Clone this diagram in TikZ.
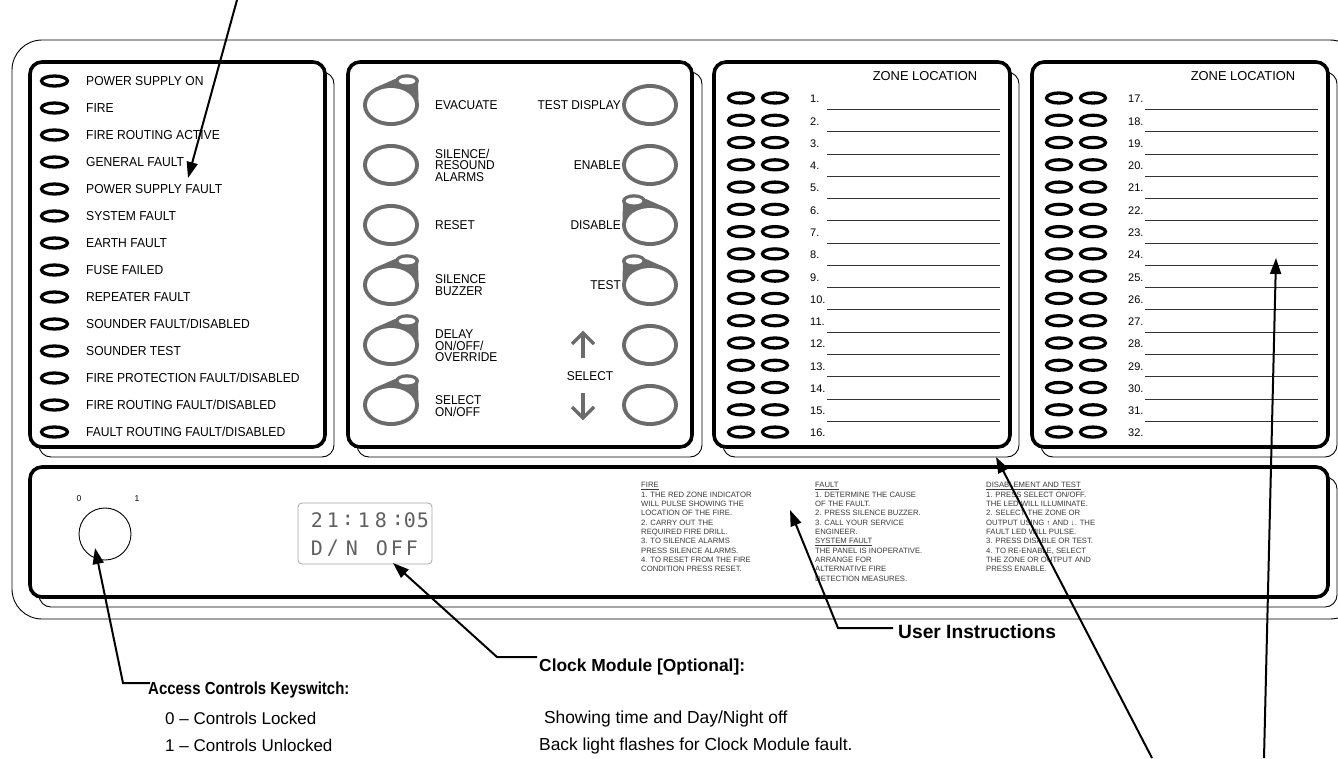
\documentclass[tikz,border=0pt]{standalone}
\usepackage{fontspec}
\setmainfont{Liberation Sans}
\newfontfamily\lcdfont{DejaVu Sans Mono}
\newfontfamily\pfont{Liberation Sans}[FakeStretch=0.93]
\newfontfamily\afont{Liberation Sans}[FakeStretch=0.86]
\usetikzlibrary{arrows.meta}
\definecolor{btngray}{HTML}{6B6B6B}
\definecolor{txtgray}{HTML}{3A3A3A}
\definecolor{lcdgray}{HTML}{606060}
\tikzset{
  panel/.style={draw, line width=3.6pt, rounded corners=12pt, fill=white},
  shadowp/.style={draw, line width=0.9pt, rounded corners=12pt, fill=white},
  led/.style={draw, line width=3.3pt},
  lbl/.style={inner sep=0pt, font=\pfont\fontsize{13}{11.5}\selectfont},
  btnlbl/.style={inner sep=0pt, align=left, font=\pfont\fontsize{12.8}{11.5}\selectfont},
  btnlblr/.style={inner sep=0pt, align=right, font=\pfont\fontsize{12.8}{11.5}\selectfont},
  zonehead/.style={inner sep=0pt, font=\fontsize{12.9}{14}\selectfont},
  znum/.style={inner sep=0pt, font=\fontsize{11}{12}\selectfont},
  zline/.style={draw, line width=1pt, black!80},
  instr/.style={inner sep=0pt, align=left, text=txtgray, font=\fontsize{7.7}{9.33}\selectfont},
  lcd/.style={inner sep=0pt, text=lcdgray, font=\lcdfont\fontsize{20}{22}\selectfont},
  anno/.style={inner sep=0pt, font=\fontsize{17.4}{19}\selectfont},
  annob/.style={inner sep=0pt, font=\bfseries\fontsize{17.4}{19}\selectfont},
  leader/.style={draw, line width=2pt, -{Triangle[length=16pt,width=11pt]}},
  selarrow/.style={draw=btngray, line width=3.5pt},
  btn/.pic={
    \fill[btngray] (0,0) ellipse [x radius=28, y radius=21];
    \fill[white] (0,0) ellipse [x radius=24, y radius=17];
  },
  btnind/.pic={
    \fill[btngray] (0,0) ellipse [x radius=28, y radius=21];
    \fill[btngray] (16,-24) ellipse [x radius=12, y radius=6.8];
    \fill[btngray] (-13,-18.5) -- (4,-26) -- (27,-24) -- (27.5,-4) -- cycle;
    \fill[white] (0,0) ellipse [x radius=24, y radius=17];
    \fill[white] (16,-24) ellipse [x radius=8.3, y radius=3.4];
  }
}
\begin{document}
\begin{tikzpicture}[x=1pt,y=-1pt]
\useasboundingbox (0,0) rectangle (1338,758);
\begin{scope}
\clip (0,0) rectangle (1338,758);
% outer frame
\draw[line width=0.9pt, rounded corners=30pt] (12,40) rectangle (1360,619);

% ---------- panel 1 : indicators ----------
\draw[shadowp] (39,72) rectangle (334,457);
\draw[panel] (30,62) rectangle (325,447);
\foreach \t [count=\i from 0] in {POWER SUPPLY ON, FIRE, FIRE ROUTING ACTIVE, GENERAL FAULT, POWER SUPPLY FAULT, SYSTEM FAULT, EARTH FAULT, FUSE FAILED, REPEATER FAULT, SOUNDER FAULT/DISABLED, SOUNDER TEST, FIRE PROTECTION FAULT/DISABLED, FIRE ROUTING FAULT/DISABLED, FAULT ROUTING FAULT/DISABLED} {
  \draw[led] (54.5,81+27*\i) ellipse [x radius=13, y radius=5];
  \node[lbl, anchor=base west] (ind\i) at (86,85.6+27*\i) {\t};
}

% ---------- panel 2 : buttons ----------
\draw[shadowp] (357,72) rectangle (702,457);
\draw[panel] (348,62) rectangle (692,447);
\pic at (391,105) {btnind};
\pic at (391,165) {btn};
\pic at (391,225) {btn};
\pic at (391,285) {btnind};
\pic at (391,345) {btnind};
\pic at (391,405) {btnind};
\pic at (650,105) {btn};
\pic at (650,165) {btn};
\pic[xscale=-1] at (650,225) {btnind};
\pic[xscale=-1] at (650,285) {btnind};
\pic at (650,345) {btn};
\pic at (650,405) {btn};
\node[btnlbl, anchor=west] (bEvac) at (435,105) {EVACUATE};
\node[btnlbl, anchor=west] (bSil) at (435,165) {SILENCE/\\RESOUND\\ALARMS};
\node[btnlbl, anchor=west] (bReset) at (435,225) {RESET};
\node[btnlbl, anchor=west] (bBuz) at (435,285) {SILENCE\\BUZZER};
\node[btnlbl, anchor=west] (bDelay) at (435,346) {DELAY\\ON/OFF/\\OVERRIDE};
\node[btnlbl, anchor=west] (bSel) at (435,406) {SELECT\\ON/OFF};
\node[btnlblr, anchor=east] (bTD) at (621,105) {TEST DISPLAY};
\node[btnlblr, anchor=east] (bEn) at (621,165) {ENABLE};
\node[btnlblr, anchor=east] (bDis) at (621,225) {DISABLE};
\node[btnlblr, anchor=east] (bTest) at (621,285) {TEST};
\node[btnlbl] (bSelect) at (590,376) {SELECT};
\draw[selarrow] (583,358) -- (583,334);
\draw[selarrow, line join=miter] (572,344) -- (583,333) -- (594,344);
\draw[selarrow] (583,393) -- (583,417);
\draw[selarrow, line join=miter] (572,407) -- (583,418) -- (594,407);

% ---------- panels 3 and 4 : zones ----------
\foreach \off/\base/\nm in {0/0/A, 318/16/B} {
  \draw[shadowp] (723+\off,72) rectangle (1019+\off,457);
  \draw[panel] (714+\off,62) rectangle (1010+\off,447);
  \node[zonehead] (zh\nm) at (925+\off,76) {ZONE LOCATION};
  \foreach \i in {1,...,16} {
    \pgfmathsetmacro\yy{98+22.27*(\i-1)}
    \pgfmathtruncatemacro\num{\i+\base}
    \draw[led] (741+\off,\yy) ellipse [x radius=12.5, y radius=5];
    \draw[led] (775+\off,\yy) ellipse [x radius=12.5, y radius=5];
    \node[znum, anchor=base west] (z\num) at (810+\off,\yy+4.9) {\num.};
    \ifnum\i<16
      \draw[zline] (827+\off,\yy+11.5) -- (1000+\off,\yy+11.5);
    \fi
  }
}

% ---------- lower panel ----------
\draw[shadowp] (39,477) rectangle (1337,607);
\draw[panel] (30,467) rectangle (1328,597);
\node[circle, draw, line width=0.9pt, minimum size=52pt, inner sep=0pt] (key) at (105,534) {};
\node[inner sep=0pt, font=\fontsize{8.5}{9}\selectfont] (k0) at (79,499) {0};
\node[inner sep=0pt, font=\fontsize{8.5}{9}\selectfont] (k1) at (137,499) {1};
\node[draw=black!35, line width=0.8pt, rounded corners=4pt, minimum width=134pt, minimum height=61pt, inner sep=0pt] (clock) at (365,533.5) {};
\foreach \c/\x in {2/317, 1/333, :/348, 1/364, 8/381, :/398, 0/410, 5/423}
  \node[lcd] (lcdA\x) at (\x,520) {\c};
\foreach \c/\x in {D/317, \slash/333, N/352, O/382, F/397, F/412}
  \node[lcd] (lcdB\x) at (\x,548) {\c};

\node[instr, anchor=north west] (insFire) at (641,482.2) {\underline{FIRE}\\
1. THE RED ZONE INDICATOR\\
WILL PULSE SHOWING THE\\
LOCATION OF THE FIRE.\\
2. CARRY OUT THE\\
REQUIRED FIRE DRILL.\\
3. TO SILENCE ALARMS\\
PRESS SILENCE ALARMS.\\
4. TO RESET FROM THE FIRE\\
CONDITION PRESS RESET.};
\node[instr, anchor=north west] (insFault) at (815,482.2) {\underline{FAULT}\\
1. DETERMINE THE CAUSE\\
OF THE FAULT.\\
2. PRESS SILENCE BUZZER.\\
3. CALL YOUR SERVICE\\
ENGINEER.\\
\underline{SYSTEM FAULT}\\
THE PANEL IS INOPERATIVE.\\
ARRANGE FOR\\
ALTERNATIVE FIRE\\
DETECTION MEASURES.};
\node[instr, anchor=north west] (insDis) at (986,482.2) {\underline{DISABLEMENT AND TEST}\\
1. PRESS SELECT ON/OFF.\\
THE LED WILL ILLUMINATE.\\
2. SELECT THE ZONE OR\\
OUTPUT USING ↑ AND ↓. THE\\
FAULT LED WILL PULSE.\\
3. PRESS DISABLE OR TEST.\\
4. TO RE-ENABLE, SELECT\\
THE ZONE OR OUTPUT AND\\
PRESS ENABLE.};

% ---------- annotations ----------
\node[annob, anchor=base west, font=\afont\bfseries\fontsize{17.4}{19}\selectfont] (keyT) at (148,694.5) {Access Controls Keyswitch:};
\node[anno, anchor=base west, font=\fontsize{17}{19}\selectfont] (keyL0) at (165,724.5) {0 – Controls Locked};
\node[anno, anchor=base west, font=\fontsize{17}{19}\selectfont] (keyL1) at (165,751.5) {1 – Controls Unlocked};
\node[annob, anchor=base west] (clkT) at (539,671.5) {Clock Module [Optional]:};
\node[anno, anchor=base west] (clkL1) at (539,723.5) {\ Showing time and Day/Night off};
\node[anno, anchor=base west] (clkL2) at (539,750.5) {Back light flashes for Clock Module fault.};
\node[annob, anchor=base west, font=\bfseries\fontsize{19.2}{21}\selectfont] (usrT) at (898,638) {User Instructions};

% ---------- leaders ----------
\coordinate (topS) at (237,0);
\coordinate (topT) at (188,178);
\draw[leader] (topS) -- (topT);
\coordinate (keyC) at (150,683);
\coordinate (keyK) at (123,683);
\coordinate (keyTip) at (95,548);
\draw[leader] (keyC) -- (keyK) -- (keyTip);
\coordinate (clkC) at (537,657);
\coordinate (clkK) at (497,657);
\coordinate (clkTip) at (393,563);
\draw[leader] (clkC) -- (clkK) -- (clkTip);
\coordinate (usrC) at (893,628);
\coordinate (usrK) at (838,628);
\coordinate (usrTip) at (790,510);
\draw[leader] (usrC) -- (usrK) -- (usrTip);
\coordinate (zA) at (1152,758);
\coordinate (zAtip) at (996,457);
\draw[leader] (zA) -- (zAtip);
\coordinate (zB) at (1264,758);
\coordinate (zBtip) at (1276,258);
\draw[leader] (zB) -- (zBtip);
\end{scope}
\end{tikzpicture}
\end{document}
